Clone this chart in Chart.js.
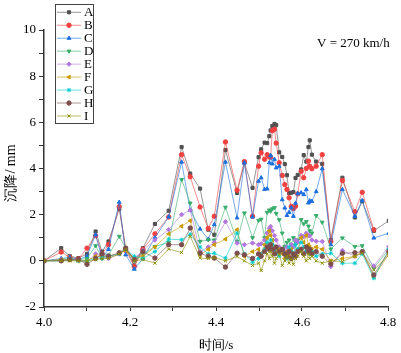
<!DOCTYPE html>
<html>
<head>
<meta charset="utf-8">
<script src="https://cdn.jsdelivr.net/npm/chart.js@4/dist/chart.umd.min.js"></script>
<style>
  html, body { margin: 0; padding: 0; background: #fff; }
  #wrap { position: relative; width: 401px; height: 353px; }
</style>
</head>
<body>
<div id="wrap"><canvas id="settle_Chart" width="401" height="353"></canvas></div>
<script>
// time axis (s), shared by all curves
var times = [4.000, 4.040, 4.060, 4.080, 4.100, 4.120, 4.135, 4.150, 4.175, 4.190,
  4.210, 4.230, 4.258, 4.290, 4.320, 4.340, 4.363, 4.382, 4.396, 4.422,
  4.449, 4.466, 4.485, 4.499, 4.505, 4.513, 4.519, 4.524, 4.527, 4.531,
  4.536, 4.540, 4.547, 4.554, 4.560, 4.565, 4.570, 4.575, 4.580, 4.585,
  4.590, 4.598, 4.604, 4.610, 4.615, 4.618, 4.623, 4.633, 4.647, 4.667,
  4.694, 4.723, 4.740, 4.767, 4.802];

// settlement (mm) per curve
var seriesA = [0, 0.55, 0.2, 0.12, 0.3, 1.27, 0.4, 0.84, 2.25, 0.55,
  -0.2, 0.55, 1.6, 2.17, 4.93, 3.78, 3.13, 1.35, 1.13, 4.8,
  2.94, 4.25, 3.16, 4.49, 4.83, 5.12, 5.1, 5.4, 5.65, 5.84,
  5.93, 5.88, 4.7, 4.5, 4.19, 3.71, 2.94, 2.95, 2.98, 3.59,
  3.72, 3.96, 4.58, 4.3, 4.93, 5.22, 4.6, 4.3, 4.2, 0.9,
  3.6, 1.88, 2.58, 1.3, 1.74];
var seriesB = [0, 0.38, 0.15, 0.08, 0.55, 1.09, 0.3, 0.7, 2.35, 0.45,
  -0.25, 0.5, 1.17, 1.9, 4.6, 3.64, 2.33, 1.4, 1.93, 5.15,
  3.06, 4.3, 1.93, 4.1, 4.68, 4.4, 4.6, 4.5, 4.49, 5.64,
  5.7, 5.1, 4.25, 3.7, 3.3, 3.09, 2.73, 2.36, 2.26, 2.36,
  2.9, 3.88, 3.6, 4.0, 4.32, 4.1, 3.99, 4.1, 4.6, 0.84,
  3.48, 2.13, 2.97, 1.35, null];
var seriesC = [0, 0.1, 0.15, 0.05, 0.2, 1.13, 0.12, 0.5, 2.54, 0.26,
  -0.36, 0.1, 1.0, 1.9, 4.28, 2.2, 1.38, 0.94, 1.57, 4.28,
  1.86, 4.25, 1.9, 3.45, 3.6, 3.1, 3.12, 4.25, 4.57, 4.2,
  4.4, 4.03, 4.1, 2.65, 2.29, 1.97, 2.1, 2.3, 1.93, 2.5,
  2.91, 2.95, 2.87, 3.09, 2.51, 2.6, 2.58, 3.0, 3.99, 0.7,
  3.09, 1.93, 2.61, 0.99, 1.2];
var seriesD = [0, 0.05, 0.1, 0.05, 0.1, 0.65, 0.1, 0.25, 1.06, 0.55,
  0.0, 0.3, 0.62, 0.8, 3.52, 2.5, 0.84, 0.91, 0.9, 2.32,
  0.84, 2.07, 1.0, 1.75, 1.8, 1.0, 2.1, 2.2, 2.15, 2.25,
  2.3, 2.05, 1.78, 1.2, 0.62, 0.8, 0.9, 0.7, 1.0, 0.8,
  0.9, 1.78, 1.6, 1.7, 1.5, 1.3, 1.2, 1.96, 1.67, 0.51,
  0.99, 0.62, 0.65, -0.32, 0.51];
var seriesE = [0, 0.05, 0.05, 0.05, -0.05, 0.3, 0.2, 0.1, 0.3, 0.5,
  0.1, 0.45, 0.9, 1.35, 2.0, 2.2, 0.4, 0.6, 0.8, 1.69,
  0.77, 0.7, 0.77, 0.7, 0.74, 0.9, 1.2, 1.4, 1.49, 1.3,
  1.1, 0.9, 0.6, 0.5, 0.4, 0.6, 0.5, 0.7, 0.6, 0.9,
  0.8, 1.1, 1.05, 1.2, 1.1, 1.09, 0.9, 0.85, 0.84, -0.25,
  0.45, 0.2, 0.35, -0.22, 0.62];
var seriesF = [0, 0.05, 0.05, 0.0, 0.0, 0.2, 0.2, 0.2, 0.3, 0.45,
  0.1, 0.2, 0.6, 1.17, 1.5, 1.74, 0.26, 0.5, 0.7, 0.94,
  1.35, 0.19, 0.4, 0.5, 0.3, 0.7, 1.0, 1.3, 1.1, 0.9,
  0.6, 0.4, 0.5, 0.3, 0.1, 0.4, 0.2, 0.5, 0.3, 0.2,
  0.5, 1.0, 0.8, 1.1, 0.7, 0.6, 0.5, 0.6, 0.5, 0.0,
  0.1, 0.2, 0.4, -0.7, 0.3];
var seriesG = [0, 0.0, 0.05, 0.0, 0.0, 0.1, 0.15, 0.2, 0.3, 0.5,
  0.2, 0.1, 0.4, 0.94, 0.91, 1.15, 0.6, 0.3, 0.33, 0.12,
  1.2, 0.3, -0.06, 0.1, 0.3, 0.5, 0.8, 0.6, 0.9, 0.7,
  0.5, 0.3, 0.2, 0.5, 0.3, 0.1, 0.6, 0.4, 0.2, 0.7,
  0.5, 0.8, 0.6, 0.4, 0.5, 0.3, 0.4, 0.2, 0.3, 0.33,
  -0.1, -0.1, 0.3, -0.75, 0.48];
var seriesH = [0, 0.0, 0.05, 0.05, -0.15, 0.1, 0.3, 0.2, 0.35, 0.55,
  0.05, 0.4, 0.12, 0.7, 0.7, 1.42, 0.33, 0.2, 0.12, -0.27,
  0.33, 0.26, 0.1, 0.3, 0.2, 0.4, 0.6, 0.5, 0.7, 0.5,
  0.3, 0.6, 0.4, 0.5, 0.3, 0.2, 0.4, 0.1, 0.3, 0.2,
  0.4, 0.5, 0.3, 0.6, 0.4, 0.5, 0.3, 0.4, 0.2, -0.14,
  0.33, 0.35, 0.4, -0.61, 0.4];
var seriesI = [0, 0.0, 0.0, 0.0, 0.0, 0.05, 0.1, 0.1, 0.3, 0.5,
  0.0, 0.05, -0.1, 0.51, 0.36, 1.06, 0.12, 0.1, 0.14, 0.0,
  0.19, 0.0, -0.2, -0.1, -0.42, 0.0, 0.3, 0.1, 0.4, 0.2,
  -0.1, 0.1, 0.3, -0.2, 0.0, 0.2, -0.1, 0.1, -0.15, 0.1,
  0.2, 0.4, 0.2, 0.0, 0.3, 0.1, 0.2, 0.0, -0.1, 0.0,
  -0.03, 0.2, 0.33, -0.39, 0.26];

var names = ['A', 'B', 'C', 'D', 'E', 'F', 'G', 'H', 'I'];
var xTicks = [4.0, 4.2, 4.4, 4.6, 4.8];
var yTicks = [-2, 0, 2, 4, 6, 8, 10];
var note = 'V = 270 km/h';
var xTitle = '时间/s';
var yTitle = '沉降/ mm';

var allSeries = [seriesA, seriesB, seriesC, seriesD, seriesE, seriesF, seriesG, seriesH, seriesI];
var colors = ['81,81,81', '241,64,64', '26,111,223', '55,173,107', '177,119,222',
  '204,153,0', '0,203,204', '125,78,78', '142,142,0'];
var shapes = ['rect', 'circle', 'triangle', 'triangle', 'rectRot', 'triangle', 'star', 'circle', 'crossRot'];
var rots = [0, 0, 0, 180, 0, -90, 0, 0, 0];

var serif = "'Liberation Serif', 'Times New Roman', serif";

var datasets = [];
for (var i = 0; i < allSeries.length; i++) {
  var pts = [];
  for (var j = 0; j < times.length; j++) {
    pts.push({ x: times[j], y: allSeries[i][j] });
  }
  datasets.push({
    label: names[i],
    data: pts,
    borderColor: 'rgba(' + colors[i] + ',0.6)',
    backgroundColor: 'rgb(' + colors[i] + ')',
    pointBackgroundColor: 'rgb(' + colors[i] + ')',
    pointBorderColor: 'rgb(' + colors[i] + ')',
    pointStyle: shapes[i],
    rotation: rots[i],
    pointRadius: 2.2,
    pointBorderWidth: 1,
    borderWidth: 1,
    tension: 0,
    spanGaps: false,
    order: 9 - i
  });
}

// legend box, speed note and y title drawn on the canvas
var extras = {
  id: 'extras',
  afterDraw: function(chart) {
    var ctx = chart.ctx;
    ctx.save();
    ctx.strokeStyle = '#444';
    ctx.lineWidth = 1;
    ctx.strokeRect(55.5, 4.5, 38, 119);
    ctx.font = '13px ' + serif;
    ctx.textBaseline = 'middle';
    ctx.textAlign = 'left';
    for (var i = 0; i < names.length; i++) {
      var y = 12.3 + i * 12.96;
      ctx.strokeStyle = 'rgba(' + colors[i] + ',0.6)';
      ctx.lineWidth = 1;
      ctx.beginPath();
      ctx.moveTo(57, y);
      ctx.lineTo(81, y);
      ctx.stroke();
      ctx.fillStyle = 'rgb(' + colors[i] + ')';
      ctx.strokeStyle = 'rgb(' + colors[i] + ')';
      Chart.helpers.drawPoint(ctx, { pointStyle: shapes[i], rotation: rots[i], radius: 2.2, borderWidth: 1 }, 69, y);
      ctx.fillStyle = '#000';
      ctx.fillText(names[i], 84, y + 0.5);
    }
    ctx.fillStyle = '#000';
    ctx.font = '13px ' + serif;
    ctx.fillText(note, 317, 44);
    // y axis title
    ctx.translate(11, 173);
    ctx.rotate(-Math.PI / 2);
    ctx.textAlign = 'center';
    ctx.font = '14px ' + serif;
    ctx.fillText(yTitle, 0, 0);
    ctx.restore();
  }
};

var context = document.getElementById('settle_Chart').getContext('2d');
var settle_Chart = new Chart(context, {
  type: 'line',
  data: { datasets: datasets },
  options: {
    responsive: false,
    animation: false,
    layout: { padding: { top: 30, right: 13, left: 0, bottom: 0 } },
    plugins: {
      legend: { display: false },
      tooltip: { enabled: false }
    },
    scales: {
      x: {
        type: 'linear',
        min: 4.0,
        max: 4.8,
        afterBuildTicks: function(scale) {
          var t = [];
          for (var k = 0; k <= 8; k++) t.push({ value: 4.0 + k * 0.1 });
          scale.ticks = t;
        },
        ticks: {
          color: '#000',
          font: { family: serif, size: 13 },
          maxRotation: 0,
          autoSkip: false,
          padding: 4,
          callback: function(v) {
            var r = Math.round(v * 10) / 10;
            for (var k = 0; k < xTicks.length; k++) {
              if (Math.abs(xTicks[k] - r) < 1e-6) return r.toFixed(1);
            }
            return '';
          }
        },
        grid: { drawOnChartArea: false, drawTicks: true, tickLength: 4, color: '#333', lineWidth: 1 },
        border: { display: true, color: '#333', width: 1.5 },
        title: { display: true, text: xTitle, color: '#000', font: { family: serif, size: 13 }, padding: { top: 2, bottom: 0 } },
        afterFit: function(scale) { scale.height = 46; }
      },
      y: {
        min: -2,
        max: 10,
        afterBuildTicks: function(scale) {
          var t = [];
          for (var k = -2; k <= 10; k++) t.push({ value: k });
          scale.ticks = t;
        },
        ticks: {
          color: '#000',
          font: { family: serif, size: 13 },
          autoSkip: false,
          padding: 3,
          callback: function(v) {
            return yTicks.indexOf(v) >= 0 ? String(v) : '';
          }
        },
        grid: { drawOnChartArea: false, drawTicks: true, tickLength: 5, color: '#333', lineWidth: 1 },
        border: { display: true, color: '#333', width: 1.5 },
        afterFit: function(scale) { scale.width = 44; }
      }
    }
  },
  plugins: [extras]
});
</script>
</body>
</html>
